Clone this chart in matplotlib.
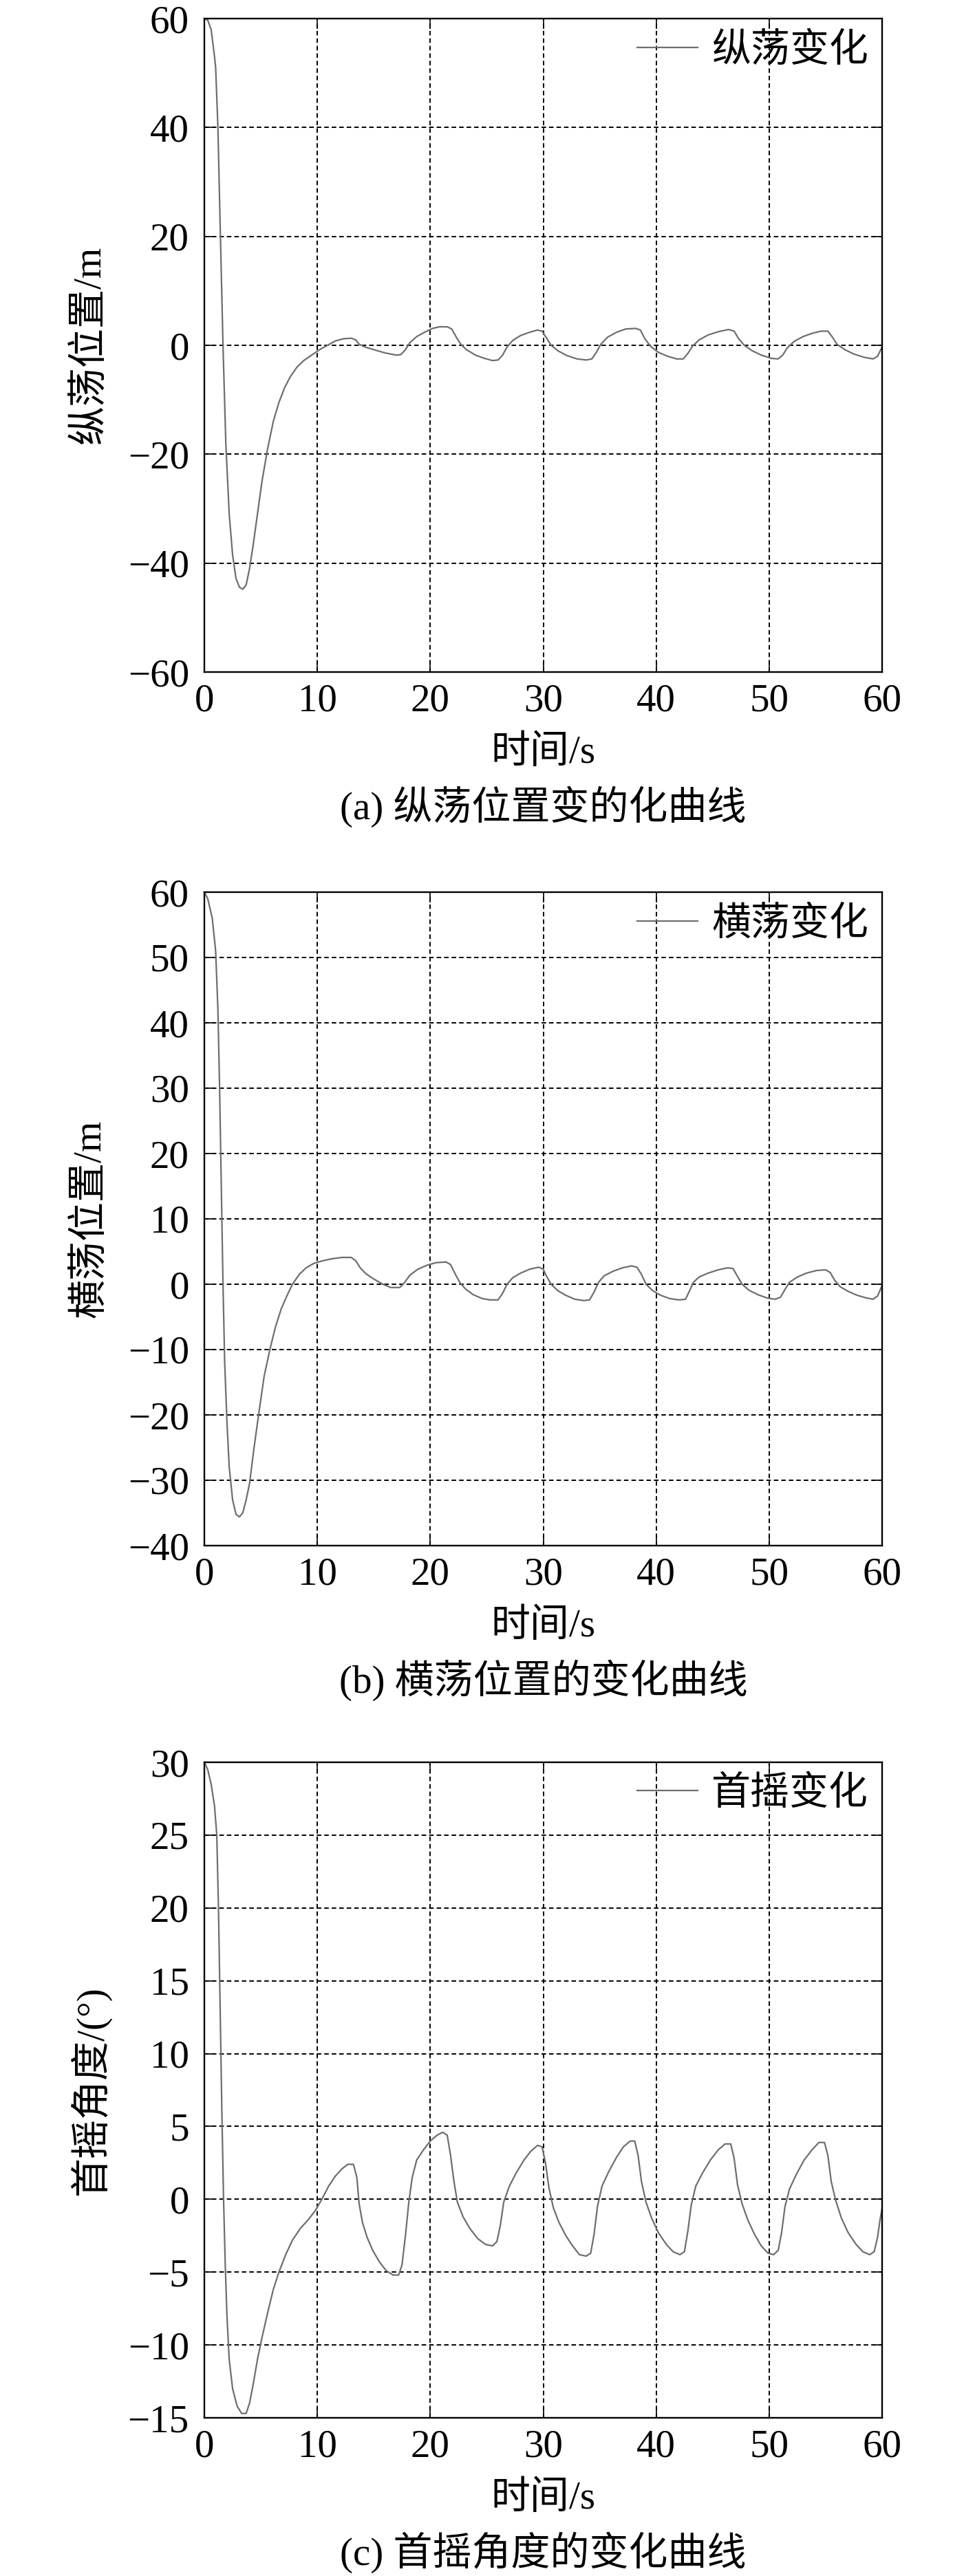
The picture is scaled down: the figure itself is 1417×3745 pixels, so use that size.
import numpy as np
import matplotlib
matplotlib.use("Agg")
import matplotlib.pyplot as plt

plt.rcParams['font.family'] = ['Liberation Serif', 'Noto Sans CJK SC', 'DejaVu Sans']
plt.rcParams['axes.unicode_minus'] = True

FS = 41

# ---- data ----
# (a) surge position, m
t_a = [0, 0.3, 0.6, 0.9, 1.0, 1.2, 1.4, 1.65, 1.9, 2.2, 2.5, 2.8, 3.1, 3.4, 3.7,
       4.0, 4.3, 4.7, 5.1, 5.6, 6.1, 6.6, 7.1, 7.6, 8.2, 8.8, 9.5, 10.2, 10.9,
       11.6, 12.3, 13.0, 13.4, 13.7, 14.2, 15.0, 16.0, 17.0, 17.4, 17.8, 18.2,
       18.8, 19.5, 20.2, 20.8, 21.5, 21.9, 22.3, 22.7, 23.2, 24.0, 24.8, 25.5,
       26.0, 26.4, 26.8, 27.3, 28.0, 28.8, 29.5, 29.9, 30.3, 30.7, 31.3, 32.1,
       33.0, 33.8, 34.3, 34.7, 35.1, 35.7, 36.5, 37.3, 38.2, 38.6, 39.0, 39.5,
       40.2, 41.0, 41.8, 42.4, 42.8, 43.2, 43.8, 44.6, 45.5, 46.4, 46.9, 47.3,
       47.8, 48.5, 49.3, 50.2, 50.8, 51.2, 51.6, 52.2, 53.0, 53.8, 54.6, 55.2,
       55.6, 56.0, 56.7, 57.5, 58.4, 59.2, 59.6, 60.0]
surge = [60, 59.7, 58, 53, 51, 40, 22, 0, -18, -31, -38.5, -42.8, -44.4, -44.8, -44,
         -41, -37, -31, -25, -19, -14, -10.5, -7.8, -5.8, -4, -2.8, -1.8, -0.8, 0,
         0.8, 1.2, 1.3, 1.0, 0.2, -0.3, -0.8, -1.4, -1.8, -1.7, -0.8, 0.5,
         1.6, 2.4, 3.1, 3.4, 3.4, 3.0, 1.5, 0.2, -0.8, -1.8, -2.4, -2.8,
         -2.7, -1.8, -0.3, 0.9, 1.8, 2.4, 2.8, 2.6, 1.3, 0.0, -1.0, -1.9,
         -2.5, -2.7, -2.5, -1.3, 0.2, 1.5, 2.4, 3.0, 3.1, 2.8, 1.2, -0.2,
         -1.3, -2.0, -2.5, -2.5, -1.5, -0.2, 1.0, 1.9, 2.5, 2.9, 2.6, 1.2,
         0.0, -1.0, -1.8, -2.4, -2.5, -1.8, -0.5, 0.7, 1.6, 2.2, 2.6, 2.6,
         1.5, 0.2, -0.8, -1.6, -2.2, -2.5, -2.0, -0.3]

# (b) sway position, m
t_b = [0, 0.3, 0.7, 1.0, 1.2, 1.35, 1.5, 1.65, 1.8, 2.0, 2.2, 2.5, 2.8, 3.1, 3.4,
       3.7, 4.0, 4.4, 4.8, 5.3, 5.8, 6.3, 6.8, 7.3, 7.8, 8.4, 9.0, 9.7, 10.5,
       11.3, 12.2, 13.0, 13.4, 13.8, 14.3, 15.0, 15.8, 16.5, 17.3, 17.7, 18.2,
       18.9, 19.7, 20.5, 21.4, 21.8, 22.2, 22.6, 23.1, 23.8, 24.6, 25.3, 26.0,
       26.4, 26.8, 27.3, 28.0, 28.8, 29.6, 30.0, 30.3, 30.7, 31.3, 32.0, 32.8,
       33.6, 34.1, 34.5, 34.9, 35.4, 36.2, 37.0, 37.8, 38.3, 38.7, 39.1, 39.7,
       40.4, 41.2, 42.0, 42.6, 42.9, 43.3, 43.8, 44.6, 45.5, 46.3, 46.8, 47.2,
       47.6, 48.2, 49.0, 49.8, 50.5, 51.0, 51.4, 51.8, 52.5, 53.3, 54.2, 55.0,
       55.4, 55.8, 56.3, 57.0, 57.8, 58.6, 59.2, 59.6, 60.0]
sway = [60, 59, 56, 51, 42, 30, 15, 0, -12, -21, -28, -33, -35.2, -35.6, -35,
        -33, -30.5, -25, -20, -14, -10, -6.5, -3.8, -1.8, 0, 1.5, 2.5, 3.2, 3.6,
        3.9, 4.1, 4.1, 3.6, 2.5, 1.6, 0.8, 0, -0.5, -0.5, 0.2, 1.4,
        2.3, 2.9, 3.3, 3.4, 3.0, 1.6, 0.3, -0.7, -1.6, -2.2, -2.4, -2.4,
        -1.4, 0, 1.0, 1.7, 2.3, 2.6, 2.3, 1.2, 0, -1.0, -1.7, -2.3,
        -2.5, -2.4, -1.2, 0.3, 1.3, 2.0, 2.5, 2.8, 2.6, 1.5, 0, -1.0,
        -1.7, -2.2, -2.4, -2.3, -1.2, 0.3, 1.1, 1.7, 2.2, 2.5, 2.4, 1.2,
        0, -0.9, -1.6, -2.1, -2.3, -2.0, -0.8, 0.3, 1.1, 1.7, 2.1, 2.2,
        1.8, 0.6, -0.4, -1.1, -1.7, -2.1, -2.3, -1.8, -0.2]

# (c) yaw angle, deg
t_c = [0, 0.3, 0.6, 0.9, 1.1, 1.25, 1.4, 1.55, 1.7, 1.85, 2.0, 2.2, 2.5, 2.9, 3.3,
       3.7, 4.0, 4.3, 4.7, 5.1, 5.6, 6.1, 6.6, 7.2, 7.8, 8.5, 9.2, 9.8, 10.4,
       11.0, 11.6, 12.2, 12.7, 13.2, 13.5, 13.7, 14.0, 14.4, 14.9, 15.5, 16.1,
       16.7, 17.2, 17.5, 17.8, 18.1, 18.4, 18.8, 19.4, 20.0, 20.6, 21.1, 21.5,
       21.8, 22.1, 22.4, 22.9, 23.5, 24.2, 24.9, 25.5, 25.9, 26.2, 26.5, 27.0,
       27.6, 28.3, 28.9, 29.5, 29.9, 30.2, 30.5, 30.9, 31.4, 32.0, 32.6, 33.2,
       33.8, 34.2, 34.5, 34.8, 35.2, 35.8, 36.5, 37.1, 37.7, 38.1, 38.4, 38.7,
       39.1, 39.6, 40.2, 40.9, 41.5, 42.1, 42.5, 42.8, 43.1, 43.5, 44.1, 44.8,
       45.5, 46.1, 46.6, 46.9, 47.2, 47.6, 48.1, 48.7, 49.3, 49.9, 50.4, 50.8,
       51.1, 51.4, 51.8, 52.4, 53.1, 53.8, 54.4, 54.9, 55.2, 55.5, 55.9, 56.4,
       57.0, 57.7, 58.3, 58.9, 59.3, 59.6, 59.8, 60.0]
yaw = [30, 29.5, 28.5, 27, 25, 20, 13, 6, 0, -4.5, -8, -11, -13, -14.2, -14.7,
       -14.7, -14, -12.8, -11, -9.5, -7.8, -6.2, -5, -3.8, -2.8, -2.0, -1.4, -0.8, 0,
       0.9, 1.6, 2.1, 2.4, 2.4, 1.5, -0.3, -1.6, -2.6, -3.5, -4.3, -4.9,
       -5.2, -5.2, -4.5, -2.5, -0.2, 1.5, 2.7, 3.4, 4.0, 4.4, 4.6, 4.4,
       3.0, 1.2, -0.2, -1.2, -2.0, -2.7, -3.1, -3.2, -2.9, -1.8, -0.2, 0.9,
       1.8, 2.7, 3.3, 3.7, 3.6, 2.5, 0.8, -0.6, -1.6, -2.5, -3.2, -3.8,
       -3.9, -3.7, -2.4, -0.5, 0.9, 1.9, 2.9, 3.6, 4.0, 4.0, 3.0, 1.2,
       -0.2, -1.3, -2.3, -3.1, -3.6, -3.8, -3.6, -2.2, -0.4, 0.9, 1.8, 2.7,
       3.4, 3.8, 3.8, 2.8, 1.0, -0.3, -1.4, -2.4, -3.2, -3.7, -3.8, -3.5,
       -2.3, -0.5, 0.7, 1.7, 2.7, 3.4, 3.9, 3.9, 3.0, 1.2, -0.1, -1.3,
       -2.3, -3.1, -3.6, -3.8, -3.6, -2.6, -1.5, -0.6]

panels = [
    (t_a, surge, '纵荡变化', '纵荡位置/m', '(a) 纵荡位置变的化曲线', (-60, 60), np.arange(-60, 61, 20)),
    (t_b, sway, '横荡变化', '横荡位置/m', '(b) 横荡位置的变化曲线', (-40, 60), np.arange(-40, 61, 10)),
    (t_c, yaw, '首摇变化', '首摇角度/(°)', '(c) 首摇角度的变化曲线', (-15, 30), np.arange(-15, 31, 5)),
]

W, H = 1417, 3745
fig = plt.figure(figsize=(W / 100, H / 100), dpi=100)

# axes boxes in pixels: top, bottom
boxes = [(27, 977), (1297, 2247), (2562, 3515)]
left, right = 297, 1282

for (t, y, leg, ylab, cap, ylim, yticks), (top, bot) in zip(panels, boxes):
    ax = fig.add_axes([left / W, 1 - bot / H, (right - left) / W, (bot - top) / H])
    ax.plot(t, y, color='#6e6e6e', lw=1.6, label=leg)
    ax.set_xlim(0, 60)
    ax.set_ylim(*ylim)
    ax.set_xticks(np.arange(0, 61, 10))
    ax.set_yticks(yticks)
    ax.grid(True, color='black', lw=1.4, linestyle=(0, (3.4, 2.2)))
    ax.tick_params(direction='in', top=True, right=True, length=11, width=1.2,
                   labelsize=FS, pad=12)
    ax.tick_params(axis='y', pad=16)
    for s in ax.spines.values():
        s.set_linewidth(1.7)
    ax.legend(loc='upper right', frameon=False, fontsize=FS, handlelength=1.55,
              handletextpad=0.35, borderaxespad=0.15, borderpad=0.2)
    cy = (top + bot) / 2
    fig.text(131 / W, 1 - cy / H, ylab, rotation=90, ha='center', va='center', fontsize=FS)
    fig.text((left + right) / 2 / W, 1 - (bot + 118) / H, '时间/s', ha='center', va='center', fontsize=FS)
    fig.text((left + right) / 2 / W, 1 - (bot + 196) / H, cap, ha='center', va='center', fontsize=FS)

fig.savefig('out.png', dpi=100)
